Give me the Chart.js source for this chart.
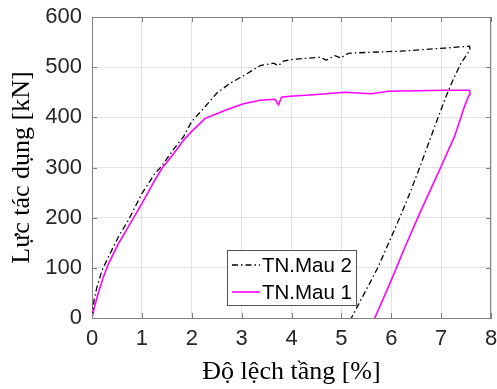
<!DOCTYPE html>
<html>
<head>
<meta charset="utf-8">
<script src="https://cdn.jsdelivr.net/npm/chart.js@4.4.1/dist/chart.umd.min.js"></script>
<style>
  body { margin: 0; background: #fff; }
  canvas { display: block; }
</style>
</head>
<body>
<canvas id="myChart" width="497" height="389"></canvas>
<script>
// data
const mau2X = [0, 0.04, 0.1, 0.2, 0.33, 0.53, 0.73, 1.0, 1.26, 1.4, 1.64, 1.84, 2.0, 2.24, 2.5, 2.77, 3.04, 3.37, 3.64, 3.74, 3.84, 3.97, 4.57, 4.7, 4.87, 5.0, 5.07, 5.17, 6.2, 7.07, 7.57, 7.58, 7.4, 7.24, 7.1, 6.94, 6.57, 6.37, 6.17, 5.73, 5.2];
const mau2Y = [0, 35, 62, 95, 122, 162, 195, 248, 288, 303, 337, 362, 392, 418, 448, 468, 483, 503, 508, 503, 512, 515, 520, 514, 523, 518, 525, 528, 532, 538, 542, 535, 508, 475, 442, 400, 300, 248, 200, 100, 0];

const mau1X = [0, 0.05, 0.12, 0.23, 0.33, 0.53, 0.73, 1.0, 1.26, 1.4, 1.64, 1.84, 2.0, 2.27, 2.7, 3.04, 3.37, 3.67, 3.74, 3.8, 3.97, 4.44, 5.07, 5.6, 5.94, 7.07, 7.57, 7.58, 7.55, 7.47, 7.27, 7.0, 6.6, 6.27, 6.0, 5.67];
const mau1Y = [0, 22, 48, 82, 108, 148, 182, 228, 275, 298, 328, 355, 372, 398, 415, 427, 434, 436, 425, 440, 442, 445, 450, 447, 452, 454, 454, 446, 442, 422, 362, 302, 215, 140, 75, 0];

const xTicks = [0, 1, 2, 3, 4, 5, 6, 7, 8];
const yTicks = [0, 100, 200, 300, 400, 500, 600];

function toPoints(xs, ys) {
  return xs.map((x, i) => ({ x: x, y: ys[i] }));
}

const axisColor = "#808080";
const tickFont = { family: "Liberation Sans, Arial, sans-serif", size: 22 };
const titleFont = { family: "Liberation Serif, Times New Roman, serif", size: 26 };

// frame + inward tick marks (matlab style)
const framePlugin = {
  id: "frame",
  afterDatasetsDraw(chart) {
    const { ctx, chartArea: a, scales } = chart;
    ctx.save();
    ctx.strokeStyle = axisColor;
    ctx.lineWidth = 1;
    ctx.beginPath();
    ctx.moveTo(a.left, a.top + 0.5);
    ctx.lineTo(a.right - 0.5, a.top + 0.5);
    ctx.lineTo(a.right - 0.5, a.bottom);
    ctx.stroke();
    const len = 5;
    ctx.beginPath();
    xTicks.forEach((t) => {
      const px = Math.round(scales.x.getPixelForValue(t)) + 0.5;
      ctx.moveTo(px, a.bottom);
      ctx.lineTo(px, a.bottom - len);
      ctx.moveTo(px, a.top);
      ctx.lineTo(px, a.top + len);
    });
    yTicks.forEach((t) => {
      const py = Math.round(scales.y.getPixelForValue(t)) + 0.5;
      ctx.moveTo(a.left, py);
      ctx.lineTo(a.left + len, py);
      ctx.moveTo(a.right, py);
      ctx.lineTo(a.right - len, py);
    });
    ctx.stroke();
    ctx.restore();
  },
};

// legend box inside the plot
const legendPlugin = {
  id: "boxLegend",
  afterDraw(chart) {
    const { ctx, scales } = chart;
    const x0 = Math.round(scales.x.getPixelForValue(2.71));
    const y0 = Math.round(scales.y.getPixelForValue(136));
    const w = 129, h = 55;
    ctx.save();
    ctx.fillStyle = "#fff";
    ctx.fillRect(x0, y0, w, h);
    ctx.strokeStyle = "#555";
    ctx.lineWidth = 1;
    ctx.strokeRect(x0 + 0.5, y0 + 0.5, w, h);
    ctx.font = "20.5px Liberation Sans, Arial, sans-serif";
    ctx.textBaseline = "middle";
    chart.data.datasets.forEach((ds, i) => {
      const cy = y0 + 15 + i * 27;
      ctx.strokeStyle = ds.borderColor;
      ctx.lineWidth = ds.borderWidth;
      ctx.setLineDash(ds.borderDash || []);
      ctx.beginPath();
      ctx.moveTo(x0 + 5, cy);
      ctx.lineTo(x0 + 33, cy);
      ctx.stroke();
      ctx.setLineDash([]);
      ctx.fillStyle = "#000";
      ctx.fillText(ds.label, x0 + 35, cy + 1);
    });
    ctx.restore();
  },
};

const data = {
  datasets: [
    {
      label: "TN.Mau 2",
      data: toPoints(mau2X, mau2Y),
      showLine: true,
      borderColor: "#000000",
      borderWidth: 1.3,
      borderDash: [6, 3, 1.5, 3],
      pointRadius: 0,
      tension: 0,
    },
    {
      label: "TN.Mau 1",
      data: toPoints(mau1X, mau1Y),
      showLine: true,
      borderColor: "#ff00ff",
      borderWidth: 1.6,
      pointRadius: 0,
      tension: 0,
    },
  ],
};

const config = {
  type: "scatter",
  data,
  options: {
    responsive: false,
    animation: false,
    layout: { padding: { top: 17, right: 6, left: 0, bottom: 0 } },
    plugins: {
      legend: { display: false },
      tooltip: { enabled: false },
    },
    scales: {
      x: {
        type: "linear",
        min: 0,
        max: 8,
        afterFit: (s) => {
          s.height = 71;
          s.paddingLeft = 0;
          s.paddingRight = 0;
        },
        afterBuildTicks: (s) => { s.ticks = xTicks.map((v) => ({ value: v })); },
        ticks: { font: tickFont, color: "#262626", padding: 8, maxRotation: 0 },
        grid: { color: "#e3e3e3", drawTicks: false },
        border: { color: axisColor },
        title: {
          display: true,
          text: "Độ lệch tầng [%]",
          font: titleFont,
          color: "#000",
          padding: { top: 0, bottom: 1 },
        },
      },
      y: {
        type: "linear",
        min: 0,
        max: 600,
        afterFit: (s) => {
          s.width = 92;
          s.paddingTop = 0;
          s.paddingBottom = 0;
        },
        afterBuildTicks: (s) => { s.ticks = yTicks.map((v) => ({ value: v })); },
        ticks: { font: tickFont, color: "#262626", padding: 10 },
        grid: { color: "#e3e3e3", drawTicks: false },
        border: { color: axisColor },
        title: {
          display: true,
          text: "Lực tác dụng [kN]",
          font: titleFont,
          color: "#000",
          padding: { top: 7, bottom: 0 },
        },
      },
    },
  },
  plugins: [framePlugin, legendPlugin],
};

const myChart = new Chart(document.getElementById("myChart"), config);
</script>
</body>
</html>
